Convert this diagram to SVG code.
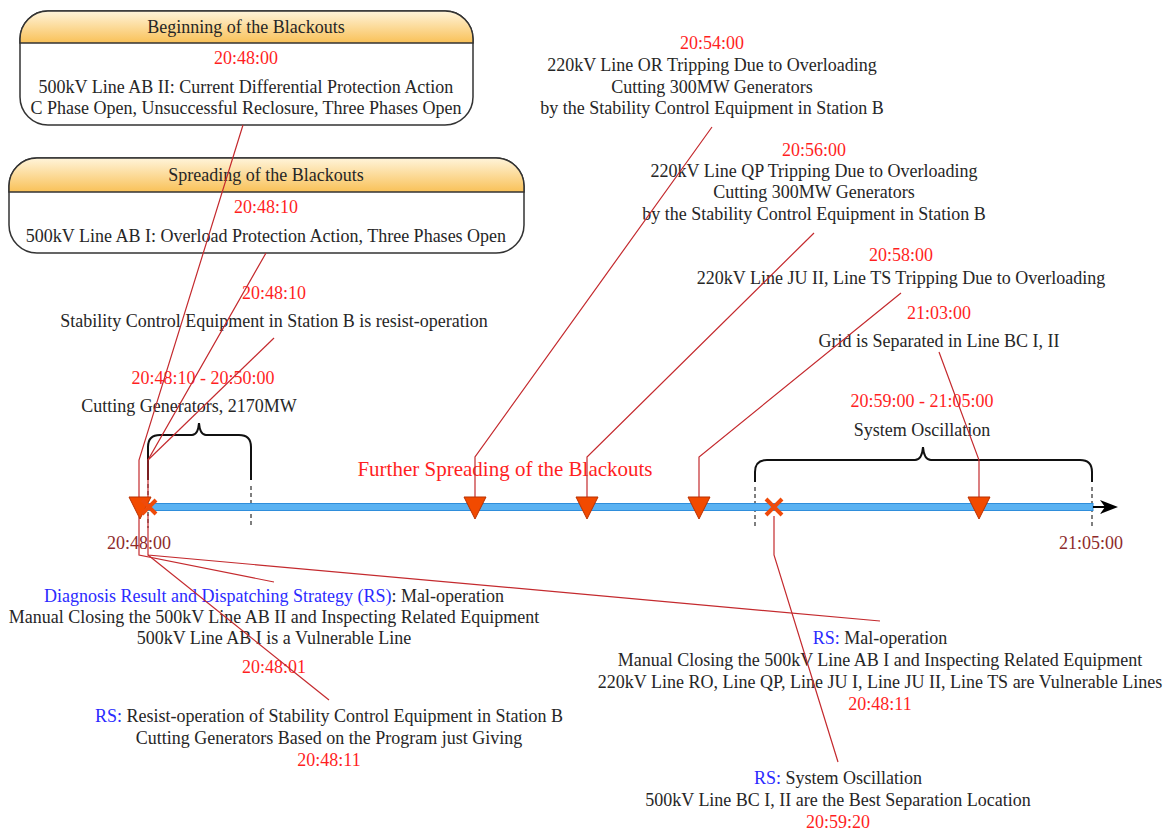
<svg xmlns="http://www.w3.org/2000/svg" width="1173" height="830" viewBox="0 0 1173 830">
<defs>
<linearGradient id="hdr" x1="0" y1="0" x2="0" y2="1">
<stop offset="0" stop-color="#fff4da"/>
<stop offset="1" stop-color="#f9c158"/>
</linearGradient>
</defs>
<style>
text{font-family:"Liberation Serif","Times New Roman",serif;font-size:18px;text-anchor:middle;fill:#262626}
.r{fill:#ff1f1f}
.b{fill:#2b2bff}
.dr{fill:#8e2b2b}
.big{font-size:21px}
.conn{fill:none;stroke:#c42a2e;stroke-width:1.2}
.dash{stroke:#555;stroke-width:1.5;stroke-dasharray:4 3}
.brace{fill:none;stroke:#111;stroke-width:2}
.tri{fill:#f24a00;stroke:#b93000;stroke-width:1}
.xm{stroke:#ef4a0a;stroke-width:4;fill:none}
.box{fill:#fff;stroke:#333;stroke-width:1.5}
.hdr{fill:url(#hdr);stroke:#333;stroke-width:1.5}
</style>
<rect width="1173" height="830" fill="#fff"/>

<g id="box-beginning">
<rect class="box" x="20" y="11" width="453" height="114" rx="28" ry="28"/>
<path class="hdr" d="M20,43 V39 A28,28 0 0 1 48,11 H445 A28,28 0 0 1 473,39 V43 Z"/>
<text x="246" y="33">Beginning of the Blackouts</text>
<text class="r" x="246" y="64">20:48:00</text>
<text x="246" y="93">500kV Line AB II: Current Differential Protection Action</text>
<text x="246" y="114">C Phase Open, Unsuccessful Reclosure, Three Phases Open</text>
</g>

<g id="box-spreading">
<rect class="box" x="9" y="158" width="515" height="95" rx="28" ry="28"/>
<path class="hdr" d="M9,192 V186 A28,28 0 0 1 37,158 H496 A28,28 0 0 1 524,186 V192 Z"/>
<text x="266" y="181">Spreading of the Blackouts</text>
<text class="r" x="266" y="213">20:48:10</text>
<text x="266" y="242">500kV Line AB I: Overload Protection Action, Three Phases Open</text>
</g>

<g id="ev-stability">
<text class="r" x="274" y="299">20:48:10</text>
<text x="274" y="327">Stability Control Equipment in Station B is resist-operation</text>
</g>

<g id="ev-cutting">
<text class="r" x="203" y="384">20:48:10 - 20:50:00</text>
<text x="189" y="412">Cutting Generators, 2170MW</text>
</g>

<g id="ev-2054">
<text class="r" x="712" y="49">20:54:00</text>
<text x="712" y="71">220kV Line OR Tripping Due to Overloading</text>
<text x="712" y="93">Cutting 300MW Generators</text>
<text x="712" y="114">by the Stability Control Equipment in Station B</text>
</g>

<g id="ev-2056">
<text class="r" x="814" y="156">20:56:00</text>
<text x="814" y="177">220kV Line QP Tripping Due to Overloading</text>
<text x="814" y="198">Cutting 300MW Generators</text>
<text x="814" y="220">by the Stability Control Equipment in Station B</text>
</g>

<g id="ev-2058">
<text class="r" x="901" y="261">20:58:00</text>
<text x="901" y="284">220kV Line JU II, Line TS Tripping Due to Overloading</text>
</g>

<g id="ev-2103">
<text class="r" x="939" y="319">21:03:00</text>
<text x="939" y="347">Grid is Separated in Line BC I, II</text>
</g>

<g id="ev-oscillation">
<text class="r" x="922" y="407">20:59:00 - 21:05:00</text>
<text x="922" y="436">System Oscillation</text>
</g>

<g id="label-further">
<text class="r big" x="505" y="476">Further Spreading of the Blackouts</text>
</g>

<g id="rs-1">
<text x="274" y="602"><tspan class="b">Diagnosis Result and Dispatching Strategy (RS)</tspan>: Mal-operation</text>
<text x="274" y="623">Manual Closing the 500kV Line AB II and Inspecting Related Equipment</text>
<text x="274" y="644">500kV Line AB I is a Vulnerable Line</text>
<text class="r" x="274" y="673">20:48:01</text>
</g>

<g id="rs-2">
<text x="329" y="722"><tspan class="b">RS:</tspan> Resist-operation of Stability Control Equipment in Station B</text>
<text x="329" y="744">Cutting Generators Based on the Program just Giving</text>
<text class="r" x="329" y="766">20:48:11</text>
</g>

<g id="rs-3">
<text x="880" y="644"><tspan class="b">RS:</tspan> Mal-operation</text>
<text x="880" y="666">Manual Closing the 500kV Line AB I and Inspecting Related Equipment</text>
<text x="880" y="688">220kV Line RO, Line QP, Line JU I, Line JU II, Line TS are Vulnerable Lines</text>
<text class="r" x="880" y="710">20:48:11</text>
</g>

<g id="rs-4">
<text x="838" y="784"><tspan class="b">RS:</tspan> System Oscillation</text>
<text x="838" y="806">500kV Line BC I, II are the Best Separation Location</text>
<text class="r" x="838" y="828">20:59:20</text>
</g>

<g id="braces">
<path class="brace" d="M148,480 V447 Q148,435 160,435 H192 Q198,435 199,423 Q200,435 206,435 H239 Q251,435 251,447 V480"/>
<path class="brace" d="M755,482 V472 Q755,460 767,460 H915 Q922,460 923,447 Q924,460 931,460 H1080 Q1092,460 1092,472 V482"/>
<line class="dash" x1="148" y1="484" x2="148" y2="528"/>
<line class="dash" x1="251" y1="486" x2="251" y2="528"/>
<line class="dash" x1="755" y1="487" x2="755" y2="527"/>
<line class="dash" x1="1092" y1="487" x2="1092" y2="528"/>
</g>

<g id="timeline">
<rect x="148" y="503.5" width="945" height="7" fill="#5ab2f2" stroke="#2f8edb" stroke-width="1"/>
<line x1="1093" y1="507" x2="1106" y2="507" stroke="#000" stroke-width="2"/>
<polygon points="1118,507 1100,500 1105,507 1100,514" fill="#000"/>
<text class="dr" x="139" y="549">20:48:00</text>
<text class="dr" x="1091" y="549">21:05:00</text>
</g>

<g id="connectors">
<polyline class="conn" points="243,125 139,460 139,497"/>
<polyline class="conn" points="266,253 148,460 148,500"/>
<polyline class="conn" points="274,338 148,460"/>
<polyline class="conn" points="139,517 139,555 274,582"/>
<polyline class="conn" points="148,514 148,555 880,621"/>
<polyline class="conn" points="148,555 329,700"/>
<polyline class="conn" points="712,127 475,457 475,497"/>
<polyline class="conn" points="814,233 587,457 587,497"/>
<polyline class="conn" points="901,293 699,457 699,497"/>
<polyline class="conn" points="939,352 979,460 979,497"/>
<polyline class="conn" points="774,516 774,555 838,762"/>
</g>

<g id="markers">
<polygon class="tri" points="129,497 151,497 140,519"/>
<path class="xm" d="M142,500 L156,514 M156,500 L142,514"/>
<polygon class="tri" points="464,497 486,497 475,519"/>
<polygon class="tri" points="576,497 598,497 587,519"/>
<polygon class="tri" points="688,497 710,497 699,519"/>
<polygon class="tri" points="968,497 990,497 979,519"/>
<path class="xm" d="M766,499 L782,515 M782,499 L766,515"/>
</g>
</svg>
